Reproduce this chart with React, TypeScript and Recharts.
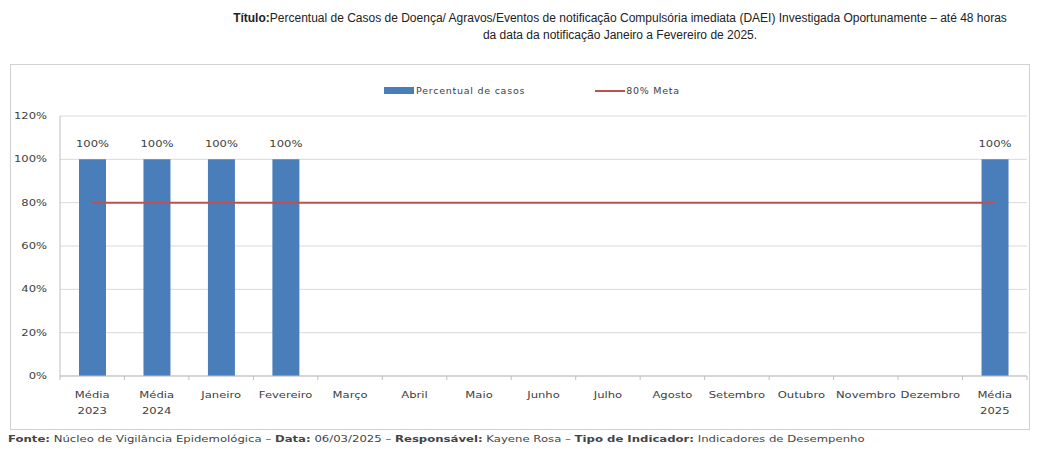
import React from "react"
import {
    ComposedChart,
    Bar,
    Line,
    XAxis,
    YAxis,
    CartesianGrid,
    Legend,
    LabelList,
} from "recharts"

const categories = [
    "Média 2023",
    "Média 2024",
    "Janeiro",
    "Fevereiro",
    "Março",
    "Abril",
    "Maio",
    "Junho",
    "Julho",
    "Agosto",
    "Setembro",
    "Outubro",
    "Novembro",
    "Dezembro",
    "Média 2025",
]
const percentual: (number | null)[] = [100, 100, 100, 100, null, null, null, null, null, null, null, null, null, null, 100]
const meta = [80, 80, 80, 80, 80, 80, 80, 80, 80, 80, 80, 80, 80, 80, 80]
const yTicks = [0, 20, 40, 60, 80, 100, 120]

const BLUE = "#4a7ebb"
const RED = "#c0504d"
const FONT = "'Liberation Sans', Arial, sans-serif"
const SMALL = "'DejaVu Sans', Verdana, sans-serif"
const STRETCH = 1.22

const data = categories.map((name, i) => ({
    name,
    percentual: percentual[i],
    meta: meta[i],
}))

const BAND = 64.5

// wide, slightly stretched text like the (scaled) original picture
function Stretched({ x, y, anchor, children }: any) {
    return (
        <g transform={`translate(${x},${y}) scale(${STRETCH},1)`}>
            <text x={0} y={0} textAnchor={anchor} fill="#404040" fontSize={9.5} fontFamily={SMALL}>
                {children}
            </text>
        </g>
    )
}

function CategoryTick(props: any) {
    const { x, y, payload } = props
    const words = String(payload.value).split(" ")
    const lines = words[0] === "Média" ? [words[0], words.slice(1).join(" ")] : [payload.value]
    return (
        <g>
            <line x1={x - BAND / 2} y1={y - 8} x2={x - BAND / 2} y2={y - 4} stroke="#bfbfbf" />
            {payload.index === categories.length - 1 && (
                <line x1={x + BAND / 2} y1={y - 8} x2={x + BAND / 2} y2={y - 4} stroke="#bfbfbf" />
            )}
            {lines.map((l, i) => (
                <Stretched key={i} x={x} y={y + 14 + i * 16} anchor="middle">
                    {l}
                </Stretched>
            ))}
        </g>
    )
}

function PercentTick(props: any) {
    const { x, y, payload } = props
    return (
        <Stretched x={x - 5} y={y + 3} anchor="end">
            {`${payload.value}%`}
        </Stretched>
    )
}

function BarLabel(props: any) {
    const { x, y, width, value } = props
    if (value == null) return null
    return (
        <Stretched x={x + width / 2} y={y - 12} anchor="middle">
            {`${value}%`}
        </Stretched>
    )
}

function LegendContent() {
    return (
        <div style={{ display: "flex", alignItems: "center", fontFamily: SMALL, fontSize: 9.5, color: "#404040", letterSpacing: 0.75 }}>
            <span style={{ display: "inline-block", width: 30, height: 7, background: BLUE, marginLeft: 373 }} />
            <span style={{ marginLeft: 2 }}>Percentual de casos</span>
            <span style={{ display: "inline-block", width: 30, height: 2, background: RED, marginLeft: 70 }} />
            <span style={{ marginLeft: 1 }}>80% Meta</span>
        </div>
    )
}

export default function App() {
    return (
        <div style={{ position: "absolute", left: 0, top: 0, width: 1040, height: 450, background: "#fff", fontFamily: FONT }}>
            <div
                style={{
                    position: "absolute",
                    left: 120,
                    top: 10,
                    width: 1000,
                    textAlign: "center",
                    fontSize: 12,
                    lineHeight: "17px",
                    color: "#222",
                }}
            >
                <b>Título:</b>Percentual de Casos de Doença/ Agravos/Eventos de notificação Compulsória imediata (DAEI) Investigada Oportunamente – até 48 horas
                <br />
                da data da notificação Janeiro a Fevereiro de 2025.
            </div>
            <div
                style={{
                    position: "absolute",
                    left: 10,
                    top: 64,
                    width: 1020,
                    height: 366,
                    border: "1px solid #d0d0d0",
                    boxSizing: "border-box",
                }}
            >
                <ComposedChart
                    width={1018}
                    height={364}
                    data={data}
                    margin={{ top: 40, right: 2, left: 9, bottom: 3 }}
                    barCategoryGap={0}
                >
                    <CartesianGrid vertical={false} stroke="#d9d9d9" />
                    <XAxis
                        dataKey="name"
                        interval={0}
                        axisLine={{ stroke: "#bfbfbf" }}
                        tickLine={false}
                        height={50}
                        tick={<CategoryTick />}
                    />
                    <YAxis
                        domain={[0, 120]}
                        ticks={yTicks}
                        width={40}
                        axisLine={{ stroke: "#bfbfbf" }}
                        tickLine={false}
                        tick={<PercentTick />}
                    />
                    <Legend verticalAlign="top" align="left" wrapperStyle={{ top: 20, left: 0 }} content={<LegendContent />} />
                    <Bar dataKey="percentual" fill={BLUE} barSize={27} isAnimationActive={false}>
                        <LabelList dataKey="percentual" content={<BarLabel />} />
                    </Bar>
                    <Line dataKey="meta" stroke={RED} strokeWidth={2} dot={false} isAnimationActive={false} />
                </ComposedChart>
            </div>
            <div
                style={{
                    position: "absolute",
                    left: 8,
                    top: 435,
                    fontFamily: SMALL,
                    fontSize: 8,
                    color: "#444",
                    whiteSpace: "nowrap",
                    transform: "scaleX(1.46)",
                    transformOrigin: "left top",
                }}
            >
                <b>Fonte:</b> Núcleo de Vigilância Epidemológica – <b>Data:</b> 06/03/2025 – <b>Responsável:</b> Kayene Rosa – <b>Tipo de Indicador:</b> Indicadores de Desempenho
            </div>
        </div>
    )
}
